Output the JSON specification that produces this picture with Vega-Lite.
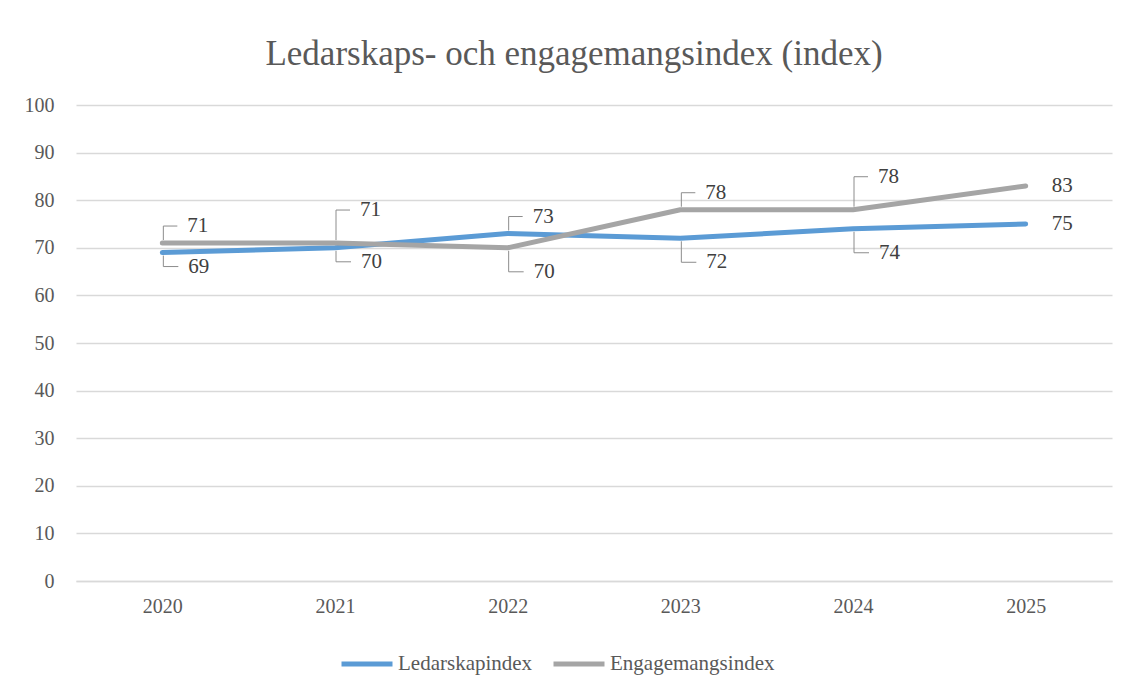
{
  "$schema": "https://vega.github.io/schema/vega-lite/v6.json",
  "autosize": {"type": "none"},
  "padding": {"left": 76, "top": 105, "right": 19, "bottom": 108},
  "width": 1036,
  "height": 476,
  "background": "white",
  "config": {
    "font": "Liberation Serif",
    "view": {"stroke": null},
    "text": {"font": "Liberation Serif"},
    "axis": {"labelFont": "Liberation Serif", "labelColor": "#595959", "labelFontSize": 20, "titleFont": "Liberation Serif"},
    "legend": {"labelFont": "Liberation Serif", "labelColor": "#595959", "labelFontSize": 21, "labelLimit": 400}
  },
  "title": {
    "text": "Ledarskaps- och engagemangsindex (index)",
    "font": "Liberation Serif",
    "fontSize": 35,
    "fontWeight": "normal",
    "color": "#595959",
    "offset": 23,
    "dx": -20
  },
  "data": {
    "values": [
      {"year": "2020", "series": "Ledarskapindex", "value": 69},
      {"year": "2021", "series": "Ledarskapindex", "value": 70},
      {"year": "2022", "series": "Ledarskapindex", "value": 73},
      {"year": "2023", "series": "Ledarskapindex", "value": 72},
      {"year": "2024", "series": "Ledarskapindex", "value": 74},
      {"year": "2025", "series": "Ledarskapindex", "value": 75},
      {"year": "2020", "series": "Engagemangsindex", "value": 71},
      {"year": "2021", "series": "Engagemangsindex", "value": 71},
      {"year": "2022", "series": "Engagemangsindex", "value": 70},
      {"year": "2023", "series": "Engagemangsindex", "value": 78},
      {"year": "2024", "series": "Engagemangsindex", "value": 78},
      {"year": "2025", "series": "Engagemangsindex", "value": 83}
    ]
  },
  "encoding": {
    "x": {
      "field": "year", "type": "ordinal",
      "scale": {"type": "point", "padding": 0.5},
      "axis": {"title": null, "labelAngle": 0, "ticks": false, "domain": true, "domainColor": "#D9D9D9", "domainWidth": 1.3, "labelPadding": 15}
    },
    "y": {
      "field": "value", "type": "quantitative",
      "scale": {"domain": [0, 100], "nice": false},
      "axis": {"title": null, "values": [0,10,20,30,40,50,60,70,80,90,100], "ticks": false, "domain": false, "gridColor": "#D9D9D9", "gridWidth": 1.3, "labelPadding": 22}
    }
  },
  "layer": [
    {
      "mark": {"type": "line", "strokeWidth": 5, "strokeCap": "round", "strokeJoin": "round"},
      "encoding": {
        "color": {
          "field": "series", "type": "nominal",
          "scale": {"domain": ["Ledarskapindex", "Engagemangsindex"], "range": ["#5B9BD5", "#A5A5A5"]},
          "legend": {
            "title": null, "orient": "none", "direction": "horizontal",
            "legendX": 263, "legendY": 531,
            "symbolType": "stroke", "symbolSize": 2600, "symbolStrokeWidth": 5,
            "labelOffset": 3, "columnPadding": 10
          }
        }
      }
    },
    {
      "transform": [{"filter": "(datum.series=='Engagemangsindex' && (datum.year=='2020' || datum.year=='2023')) || (datum.series=='Ledarskapindex' && datum.year=='2022')"}],
      "layer": [
        {"mark": {"type": "rule", "color": "#8C8C8C", "strokeWidth": 1, "xOffset": 1, "x2Offset": 1, "yOffset": -3, "y2Offset": -17}, "encoding": {"y2": {"field": "value"}}},
        {"mark": {"type": "rule", "color": "#8C8C8C", "strokeWidth": 1, "xOffset": 1, "x2Offset": 15, "yOffset": -17, "y2Offset": -17}, "encoding": {"x2": {"field": "year"}, "y2": {"field": "value"}}},
        {"mark": {"type": "text", "align": "left", "baseline": "middle", "dx": 25, "dy": -17, "fontSize": 21, "font": "Liberation Serif", "color": "#404040"}, "encoding": {"text": {"field": "value"}}}
      ]
    },
    {
      "transform": [{"filter": "datum.series=='Engagemangsindex' && (datum.year=='2021' || datum.year=='2024')"}],
      "layer": [
        {"mark": {"type": "rule", "color": "#8C8C8C", "strokeWidth": 1, "xOffset": 1, "x2Offset": 1, "yOffset": -3, "y2Offset": -33}, "encoding": {"y2": {"field": "value"}}},
        {"mark": {"type": "rule", "color": "#8C8C8C", "strokeWidth": 1, "xOffset": 1, "x2Offset": 15, "yOffset": -33, "y2Offset": -33}, "encoding": {"x2": {"field": "year"}, "y2": {"field": "value"}}},
        {"mark": {"type": "text", "align": "left", "baseline": "middle", "dx": 25, "dy": -33, "fontSize": 21, "font": "Liberation Serif", "color": "#404040"}, "encoding": {"text": {"field": "value"}}}
      ]
    },
    {
      "transform": [{"filter": "datum.series=='Ledarskapindex' && (datum.year=='2020' || datum.year=='2021')"}],
      "layer": [
        {"mark": {"type": "rule", "color": "#8C8C8C", "strokeWidth": 1, "xOffset": 1, "x2Offset": 1, "yOffset": 3, "y2Offset": 14}, "encoding": {"y2": {"field": "value"}}},
        {"mark": {"type": "rule", "color": "#8C8C8C", "strokeWidth": 1, "xOffset": 1, "x2Offset": 16, "yOffset": 14, "y2Offset": 14}, "encoding": {"x2": {"field": "year"}, "y2": {"field": "value"}}},
        {"mark": {"type": "text", "align": "left", "baseline": "middle", "dx": 26, "dy": 14, "fontSize": 21, "font": "Liberation Serif", "color": "#404040"}, "encoding": {"text": {"field": "value"}}}
      ]
    },
    {
      "transform": [{"filter": "(datum.series=='Ledarskapindex' && (datum.year=='2023' || datum.year=='2024')) || (datum.series=='Engagemangsindex' && datum.year=='2022')"}],
      "layer": [
        {"mark": {"type": "rule", "color": "#8C8C8C", "strokeWidth": 1, "xOffset": 1, "x2Offset": 1, "yOffset": 3, "y2Offset": 24}, "encoding": {"y2": {"field": "value"}}},
        {"mark": {"type": "rule", "color": "#8C8C8C", "strokeWidth": 1, "xOffset": 1, "x2Offset": 16, "yOffset": 24, "y2Offset": 24}, "encoding": {"x2": {"field": "year"}, "y2": {"field": "value"}}},
        {"mark": {"type": "text", "align": "left", "baseline": "middle", "dx": 26, "dy": 24, "fontSize": 21, "font": "Liberation Serif", "color": "#404040"}, "encoding": {"text": {"field": "value"}}}
      ]
    },
    {
      "transform": [{"filter": "datum.year=='2025'"}],
      "mark": {"type": "text", "align": "left", "baseline": "middle", "dx": 26, "fontSize": 21, "font": "Liberation Serif", "color": "#404040"},
      "encoding": {"text": {"field": "value"}}
    }
  ]
}
